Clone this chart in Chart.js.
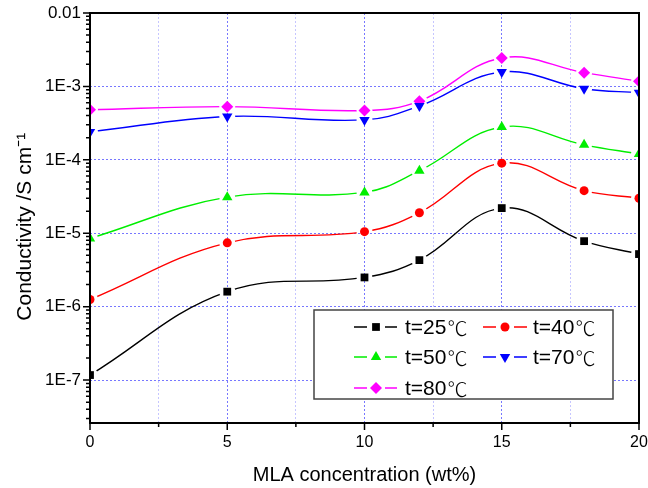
<!DOCTYPE html>
<html><head><meta charset="utf-8">
<script src="https://cdn.jsdelivr.net/npm/chart.js@4.4.0/dist/chart.umd.min.js"></script>
<style>html,body{margin:0;padding:0;background:#fff}#wrap{width:648px;height:488px}</style>
</head><body><div id="wrap"><canvas id="c" width="648" height="488"></canvas></div>
<script>
// ---- data ----
const concentrations = [0, 5, 10, 12, 15, 18, 20];
const seriesLabels = ['t=25℃', 't=40℃', 't=50℃', 't=70℃', 't=80℃'];
const t25 = [1.17e-7, 1.6e-6, 2.5e-6, 4.3e-6, 2.2e-5, 7.8e-6, 5.2e-6];
const t40 = [1.25e-6, 7.4e-6, 1.05e-5, 1.9e-5, 9.0e-5, 3.8e-5, 3.0e-5];
const t50 = [8.5e-6, 3.1e-5, 3.6e-5, 7.1e-5, 2.8e-4, 1.6e-4, 1.2e-4];
const t70 = [2.4e-4, 3.9e-4, 3.5e-4, 5.4e-4, 1.57e-3, 9.3e-4, 8.2e-4];
const t80 = [4.8e-4, 5.3e-4, 4.7e-4, 6.3e-4, 2.44e-3, 1.54e-3, 1.18e-3];
const xTickValues = [0, 5, 10, 15, 20];
const xTickLabels = ['0', '5', '10', '15', '20'];
const yTickValues = [1e-7, 1e-6, 1e-5, 1e-4, 1e-3, 1e-2];
const yTickLabels = ['1E-7', '1E-6', '1E-5', '1E-4', '1E-3', '0.01'];
const xTitle = 'MLA concentration (wt%)';
const yTitle = 'Conductivity /S cm⁻¹';
const xMin = 0, xMax = 20, yMin = 2.6e-8, yMax = 0.01;

const FONT = '"Liberation Sans", Arial, "Noto Sans CJK SC", sans-serif';
const CJK = '"Noto Sans CJK SC", "Noto Sans CJK JP", sans-serif';
const styles = [
  {color: '#000000', pointStyle: 'rect', radius: 5.5, rotation: 0},
  {color: '#ff0000', pointStyle: 'circle', radius: 4.5, rotation: 0},
  {color: '#00ee00', pointStyle: 'triangle', radius: 6, rotation: 0},
  {color: '#0000ff', pointStyle: 'triangle', radius: 6, rotation: 180},
  {color: '#ff00ff', pointStyle: 'rectRot', radius: 6, rotation: 0}
];
const seriesValues = [t25, t40, t50, t70, t80];

const datasets = seriesValues.map((vals, i) => ({
  label: seriesLabels[i],
  data: concentrations.map((x, j) => ({x: x, y: vals[j]})),
  borderColor: styles[i].color,
  backgroundColor: styles[i].color,
  pointBackgroundColor: styles[i].color,
  pointBorderColor: styles[i].color,
  pointBorderWidth: 0,
  pointStyle: styles[i].pointStyle,
  pointRadius: styles[i].radius,
  pointRotation: styles[i].rotation,
  borderWidth: 1.4,
  tension: 0.4,
  fill: false,
  clip: 0
}));

function isDecade(v) {
  const l = Math.log10(v);
  return Math.abs(l - Math.round(l)) < 1e-6;
}
function yLabelFor(v) {
  for (let j = 0; j < yTickValues.length; j++) {
    if (Math.abs(v / yTickValues[j] - 1) < 1e-6) return yTickLabels[j];
  }
  return '';
}

function drawMarker(ctx, st, x, y) {
  if (Chart.helpers && Chart.helpers.drawPoint) {
    ctx.fillStyle = st.color; ctx.strokeStyle = st.color; ctx.lineWidth = 0;
    Chart.helpers.drawPoint(ctx, {pointStyle: st.pointStyle, radius: st.radius, rotation: st.rotation, borderWidth: 0}, x, y);
    return;
  }
  ctx.fillStyle = st.color;
  ctx.beginPath(); ctx.arc(x, y, st.radius, 0, Math.PI * 2); ctx.fill();
}

const gapPlugin = {
  id: 'gaps',
  beforeDatasetDraw(chart, args) {
    const ctx = chart.ctx;
    ctx.save();
    ctx.beginPath();
    ctx.rect(0, 0, chart.width, chart.height);
    args.meta.data.forEach(p => {
      ctx.moveTo(p.x + 8, p.y);
      ctx.arc(p.x, p.y, 8, 0, Math.PI * 2);
    });
    ctx.clip('evenodd');
  },
  afterDatasetDraw(chart, args) {
    const ctx = chart.ctx, a = chart.chartArea;
    ctx.restore();
    ctx.save();
    ctx.beginPath();
    ctx.rect(a.left, a.top, a.right - a.left, a.bottom - a.top);
    ctx.clip();
    args.meta.data.forEach(p => p.draw(ctx, a));
    ctx.restore();
  }
};

const framePlugin = {
  id: 'frame',
  afterDraw(chart) {
    const ctx = chart.ctx, a = chart.chartArea, xs = chart.scales.x, ys = chart.scales.y;
    ctx.save();
    ctx.strokeStyle = '#000';
    ctx.lineWidth = 1.5;
    ctx.beginPath();
    ys.ticks.forEach(t => {
      const y = ys.getPixelForValue(t.value);
      const len = isDecade(t.value) ? 7 : 4;
      ctx.moveTo(a.left, y); ctx.lineTo(a.left - len, y);
    });
    xs.ticks.forEach(t => {
      const x = xs.getPixelForValue(t.value);
      const len = (t.value % 5 === 0) ? 7 : 4;
      ctx.moveTo(x, a.bottom); ctx.lineTo(x, a.bottom + len);
    });
    ctx.stroke();
    ctx.lineWidth = 2;
    ctx.strokeRect(a.left, a.top, a.right - a.left, a.bottom - a.top);

    // legend
    const bx = a.left + 224, by = a.top + 297, bw = 299, bh = 89;
    ctx.fillStyle = '#fff';
    ctx.fillRect(bx, by, bw, bh);
    ctx.strokeStyle = '#444';
    ctx.lineWidth = 1.5;
    ctx.strokeRect(bx, by, bw, bh);
    const rows = [17, 47, 78];
    const cols = [{l0: 40, l1: 83, m: 62, t: 91}, {l0: 169, l1: 213, m: 191, t: 219}];
    chart.data.datasets.forEach((ds, i) => {
      const r = Math.floor(i / 2), c = i % 2;
      const cy = by + rows[r];
      const col = cols[c];
      const st = styles[i];
      const mx = bx + col.m;
      ctx.strokeStyle = st.color;
      ctx.lineWidth = 1.4;
      ctx.beginPath();
      ctx.moveTo(bx + col.l0, cy); ctx.lineTo(mx - 9, cy);
      ctx.moveTo(mx + 9, cy); ctx.lineTo(bx + col.l1, cy);
      ctx.stroke();
      drawMarker(ctx, st, mx, cy);
      ctx.fillStyle = '#000';
      ctx.textAlign = 'left';
      ctx.textBaseline = 'middle';
      const label = ds.label;
      const main = label.slice(0, -1), unit = label.slice(-1);
      ctx.font = '21px ' + FONT;
      ctx.fillText(main, bx + col.t, cy + 1);
      const w = ctx.measureText(main).width;
      ctx.font = '200 20px ' + CJK;
      ctx.fillText(unit, bx + col.t + w + 1, cy + 1);
    });
    ctx.restore();
  }
};

new Chart(document.getElementById('c'), {
  type: 'line',
  data: {datasets: datasets},
  plugins: [gapPlugin, framePlugin],
  options: {
    responsive: false,
    animation: false,
    devicePixelRatio: 1,
    layout: {padding: {top: 13, right: 9, left: 0, bottom: 0}},
    plugins: {legend: {display: false}, tooltip: {enabled: false}},
    scales: {
      x: {
        type: 'linear', min: xMin, max: xMax,
        ticks: {
          stepSize: 2.5, autoSkip: false, maxRotation: 0, padding: 10,
          color: '#000', font: {size: 16, family: FONT},
          callback: (v) => { const i = xTickValues.indexOf(v); return i >= 0 ? xTickLabels[i] : ''; }
        },
        grid: {
          drawTicks: false, lineWidth: 1,
          color: (c) => (c.tick && c.tick.value % 5 === 0) ? '#7777ff' : '#c6c6ff'
        },
        border: {display: false, dash: [2, 2]},
        title: {display: true, text: xTitle, color: '#000', font: {size: 20, family: FONT}, padding: {top: 0, bottom: 1}},
        afterFit: (s) => { s.height = 65; s.paddingLeft = 0; s.paddingRight = 0; }
      },
      y: {
        type: 'logarithmic', min: yMin, max: yMax,
        afterBuildTicks: (s) => {
          const t = [];
          for (let e = -8; e <= -2; e++) {
            for (let k = 1; k <= 9; k++) {
              const v = k * Math.pow(10, e);
              if (v >= s.min * 0.999 && v <= s.max * 1.001) t.push({value: v, major: k === 1});
            }
          }
          s.ticks = t;
        },
        ticks: {
          autoSkip: false, padding: 9, color: '#000', font: {size: 17, family: FONT},
          callback: (v) => yLabelFor(v)
        },
        grid: {
          drawTicks: false, lineWidth: 1,
          color: (c) => (c.tick && isDecade(c.tick.value)) ? '#7777ff' : 'rgba(0,0,0,0)'
        },
        border: {display: false, dash: [2, 2]},
        title: {display: true, text: yTitle + '   ', color: '#000', font: {size: 21, family: FONT}, padding: {top: 13, bottom: 0}},
        afterFit: (s) => { s.width = 90; s.paddingTop = 0; s.paddingBottom = 0; }
      }
    }
  }
});
</script>
</body></html>
